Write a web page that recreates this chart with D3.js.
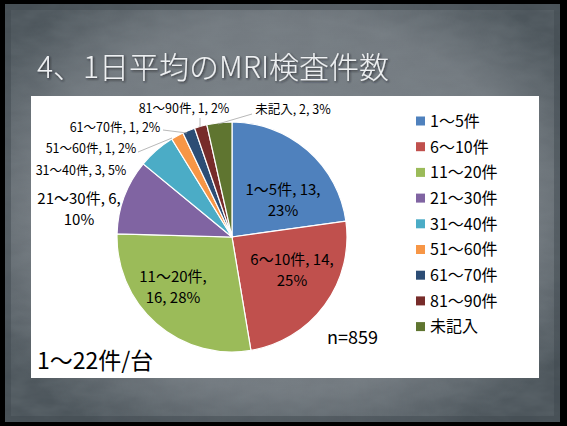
<!DOCTYPE html>
<html>
<head>
<meta charset="utf-8">
<script src="https://cdn.jsdelivr.net/npm/d3@7"></script>
<style>
  html, body { margin: 0; padding: 0; background: #000; }
  svg { display: block; }
  text { font-family: "Noto Sans CJK JP", "Noto Sans", sans-serif; }
</style>
</head>
<body>
<div id="chart"></div>
<script>
"use strict";

// data
const categories = ["1～5件", "6～10件", "11～20件", "21～30件", "31～40件", "51～60件", "61～70件", "81～90件", "未記入"];
const counts = [13, 14, 16, 6, 3, 1, 1, 1, 2];
const percents = ["23%", "25%", "28%", "10%", "5%", "2%", "2%", "2%", "3%"];
const colors = ["#4f81bd", "#c0504d", "#9bbb59", "#8064a2", "#4bacc6", "#f79646", "#2c4d75", "#772c2a", "#5f7530"];
const title = "4、1日平均のMRI検査件数";
const noteN = "n=859";
const noteRange = "1～22件/台";

// label layout: block centre relative to pie centre, line breaks, leader lines
const labelLayout = [
    { dx: 51, dy: -37, lines: (c, v, p) => [`${c}, ${v},`, p], big: true },
    { dx: 60, dy: 33, lines: (c, v, p) => [`${c}, ${v},`, p], big: true },
    { dx: -59, dy: 50, lines: (c, v, p) => [`${c},`, `${v}, ${p}`], big: true },
    { dx: -153, dy: -28, lines: (c, v, p) => [`${c}, ${v},`, p], big: true },
    { dx: -151, dy: -67, lines: (c, v, p) => [`${c}, ${v}, ${p}`] },
    { dx: -141, dy: -89, lines: (c, v, p) => [`${c}, ${v}, ${p}`], leader: [-94, -85, -60, -99] },
    { dx: -117, dy: -110, lines: (c, v, p) => [`${c}, ${v}, ${p}`], leader: [-69, -107, -45, -104] },
    { dx: -48, dy: -129, lines: (c, v, p) => [`${c}, ${v}, ${p}`], leader: [-32, -119, -32, -110] },
    { dx: 61, dy: -128, lines: (c, v, p) => [`${c}, ${v}, ${p}`], leader: [20, -123, -14, -113] },
];

const W = 567, H = 426;
const svg = d3.select("#chart").append("svg").attr("width", W).attr("height", H);

// slide background
const defs = svg.append("defs");
const grad = defs.append("radialGradient").attr("id", "slideBg")
    .attr("cx", "50%").attr("cy", "48%").attr("r", "62%");
grad.append("stop").attr("offset", "0%").attr("stop-color", "#7f868c");
grad.append("stop").attr("offset", "72%").attr("stop-color", "#737a80");
grad.append("stop").attr("offset", "100%").attr("stop-color", "#4d565c");

const noise = defs.append("filter").attr("id", "grain").attr("x", 0).attr("y", 0).attr("width", 1).attr("height", 1);
noise.append("feTurbulence").attr("type", "fractalNoise").attr("baseFrequency", "0.035 0.08").attr("numOctaves", 3).attr("seed", 4).attr("result", "n");
noise.append("feColorMatrix").attr("in", "n").attr("type", "matrix")
    .attr("values", "0 0 0 0 0.25  0 0 0 0 0.29  0 0 0 0 0.31  0 0 0 0.45 -0.1");

const shadow = defs.append("filter").attr("id", "tshadow");
shadow.append("feDropShadow").attr("dx", 1.2).attr("dy", 1.2).attr("stdDeviation", 0.9)
    .attr("flood-color", "#1a1d20").attr("flood-opacity", 0.75);

svg.append("rect").attr("width", W).attr("height", H).attr("fill", "#000");
svg.append("rect").attr("x", 5).attr("y", 4).attr("width", 555).attr("height", 418)
    .attr("fill", "url(#slideBg)");
svg.append("rect").attr("x", 5).attr("y", 4).attr("width", 555).attr("height", 418)
    .attr("fill", "#fff").attr("filter", "url(#grain)").attr("opacity", 0.6);
svg.append("rect").attr("x", 8).attr("y", 7).attr("width", 549).attr("height", 412)
    .attr("fill", "none").attr("stroke", "#3f474d").attr("stroke-width", 6).attr("opacity", 0.45);

svg.append("text")
    .attr("x", 37).attr("y", 78)
    .attr("font-size", 30)
    .attr("font-weight", 300)
    .attr("fill", "#eef0f2")
    .attr("filter", "url(#tshadow)")
    .text(title);

// chart area
svg.append("rect").attr("x", 31).attr("y", 96).attr("width", 508).attr("height", 282).attr("fill", "#fff");

const cx = 232, cy = 237, R = 115;
const g = svg.append("g").attr("transform", `translate(${cx},${cy})`);

const pie = d3.pie().sort(null).value(d => d)(counts);
const arc = d3.arc().innerRadius(0).outerRadius(R);

g.selectAll("path.slice")
    .data(pie)
    .join("path")
    .attr("class", "slice")
    .attr("d", arc)
    .attr("fill", (d, i) => colors[i])
    .attr("stroke", "#fff")
    .attr("stroke-width", 1.2);

// leader lines
g.selectAll("polyline.leader")
    .data(pie.filter((d, i) => labelLayout[i].leader))
    .join("polyline")
    .attr("class", "leader")
    .attr("points", d => {
        const L = labelLayout[d.index].leader;
        return [[L[0], L[1]], [L[2], L[3]]].map(p => p.join(",")).join(" ");
    })
    .attr("fill", "none")
    .attr("stroke", "#a6a6a6")
    .attr("stroke-width", 0.8);

// data labels
pie.forEach((d, i) => {
    const lay = labelLayout[i];
    const lines = lay.lines(categories[i], counts[i], percents[i]);
    const fs = lay.big ? 15 : 12.5;
    const lh = lay.big ? 21 : 14;
    const t = g.append("text")
        .attr("text-anchor", "middle")
        .attr("font-size", fs)
        .attr("fill", "#000");
    lines.forEach((s, k) => {
        t.append("tspan")
            .attr("x", lay.dx)
            .attr("y", lay.dy + (k - (lines.length - 1) / 2) * lh + fs * 0.36)
            .text(s);
    });
});

// legend
const legend = svg.append("g").attr("transform", "translate(416,121)");
const row = legend.selectAll("g").data(categories).join("g")
    .attr("transform", (d, i) => `translate(0,${i * 25.7})`);
row.append("rect").attr("x", 0).attr("y", -4.5).attr("width", 9).attr("height", 9)
    .attr("fill", (d, i) => colors[i]);
row.append("text").attr("x", 14).attr("y", 5.8).attr("font-size", 16).attr("fill", "#000").text(d => d);

svg.append("text").attr("x", 327).attr("y", 344).attr("font-size", 18).attr("fill", "#000").text(noteN);
svg.append("text").attr("x", 37).attr("y", 369).attr("font-size", 23).attr("fill", "#000").text(noteRange);
</script>
</body>
</html>
